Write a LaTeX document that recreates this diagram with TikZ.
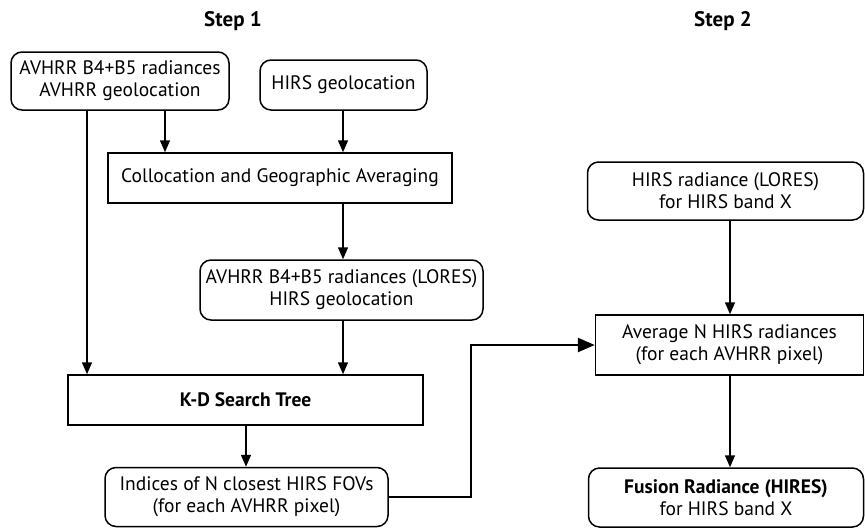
\documentclass[tikz,border=0pt]{standalone}
\usepackage{fontspec}
\setmainfont{PT Sans}
\usetikzlibrary{arrows.meta,calc}
\begin{document}
\begin{tikzpicture}[x=1pt,y=-1pt,
  every node/.style={font=\fontsize{19.5}{22}\selectfont, align=center, inner sep=0pt},
  rbox/.style={draw, line width=1.5pt, rounded corners=11pt},
  sbox/.style={draw, line width=1.5pt},
  arr/.style={line width=1.5pt, -{Triangle[length=12pt,width=10pt]}},
  bigarr/.style={line width=2.6pt, -{Triangle[length=17pt,width=14pt]}},
  title/.style={font=\fontsize{21}{24}\selectfont\bfseries}]
\useasboundingbox (0,0) rectangle (865,528);
\node[title] (s1) at (233,21) {Step 1};
\node[title] (s2) at (723,21) {Step 2};
\node[rbox, minimum width=218pt, minimum height=58pt] (A) at (120,81) {AVHRR B4+B5 radiances\\AVHRR geolocation};
\node[rbox, minimum width=167pt, minimum height=50pt] (B) at (343.5,85) {HIRS geolocation};
\node[sbox, minimum width=344pt, minimum height=50pt] (C) at (280,178) {Collocation and Geographic Averaging};
\node[rbox, minimum width=283pt, minimum height=60pt] (L) at (341.5,290) {AVHRR B4+B5 radiances (LORES)\\HIRS geolocation};
\node[sbox, minimum width=355pt, minimum height=50pt] (K) at (245.5,400) {\bfseries K-D Search Tree};
\node[rbox, minimum width=283pt, minimum height=59pt] (I) at (246.5,497) {Indices of N closest HIRS FOVs\\(for each AVHRR pixel)};
\node[rbox, minimum width=276pt, minimum height=58pt] (H) at (725.5,191) {HIRS radiance (LORES)\\for HIRS band X};
\node[sbox, minimum width=268pt, minimum height=60pt] (V) at (729.5,345) {Average N HIRS radiances\\(for each AVHRR pixel)};
\node[rbox, minimum width=275pt, minimum height=59pt] (F) at (726,497.5) {\textbf{Fusion Radiance (HIRES)}\\for HIRS band X};
\draw[arr] (A.south -| 165,0) -- (C.north -| 165,0);
\draw[arr] (A.south -| 87,0) -- (K.north -| 87,0);
\draw[arr] (B.south -| 343,0) -- (C.north -| 343,0);
\draw[arr] (C.south -| 343,0) -- (L.north -| 343,0);
\draw[arr] (L.south -| 343,0) -- (K.north -| 343,0);
\draw[arr] (K.south -| 246,0) -- (I.north -| 246,0);
\coordinate (j) at (471,0);
\draw[bigarr] (I.east) -- (I.east -| j) -- (j |- V.west) -- (V.west);
\draw[arr] (H.south -| 730,0) -- (V.north -| 730,0);
\draw[arr] (V.south -| 730,0) -- (F.north -| 730,0);
\end{tikzpicture}
\end{document}
